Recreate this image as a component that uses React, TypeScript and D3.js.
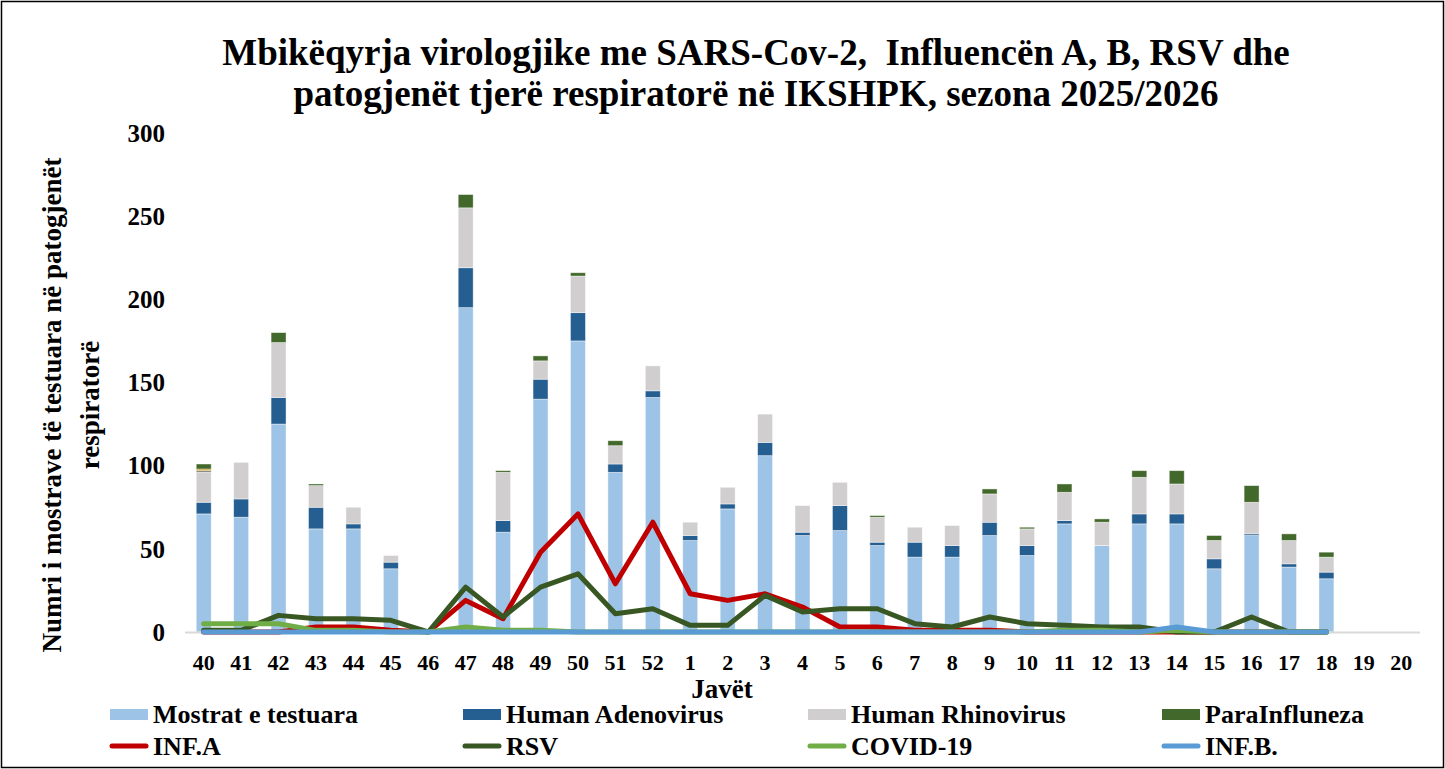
import { useEffect, useRef } from 'react';
import * as d3 from 'd3';

const weeks = ['40', '41', '42', '43', '44', '45', '46', '47', '48', '49', '50', '51', '52',
  '1', '2', '3', '4', '5', '6', '7', '8', '9', '10', '11', '12', '13', '14', '15', '16', '17', '18', '19', '20'];

// stacked bar segments (null = no data)
const mostrat = [71, 69, 125, 62, 62, 38, 0, 195, 60, 140, 175, 96, 141, 55, 74, 106, 58, 61, 52, 45, 45, 58, 46, 65, 52, 65, 65, 38, 58, 39, 32, null, null];
const adenovirus = [7, 11, 16, 13, 3, 4, 0, 24, 7, 12, 17, 5, 4, 3, 3, 8, 2, 15, 2, 9, 7, 8, 6, 2, 0, 6, 6, 6, 1, 2, 4, null, null];
const rhinovirus = [18, 22, 33, 13, 10, 4, 0, 36, 29, 11, 22, 11, 15, 8, 10, 17, 16, 14, 15, 9, 12, 17, 10, 17, 14, 22, 18, 11, 19, 14, 9, null, null];
const metapneumo = [1, 0, 0, 0, 0, 0, 0, 0, 0, 0, 0, 0, 0, 0, 0, 0, 0, 0, 0, 0, 0, 0, 0, 0, 0, 0, 0, 0, 0, 0, 0, null, null];
const bocavirus = [1, 0, 0, 0, 0, 0, 0, 0, 0, 0, 0, 0, 0, 0, 0, 0, 0, 0, 0, 0, 0, 0, 0, 0, 0, 0, 0, 0, 0, 0, 0, null, null];
const parainfluenza = [3, 0, 6, 1, 0, 0, 0, 8, 1, 3, 2, 3, 0, 0, 0, 0, 0, 0, 1, 0, 0, 3, 1, 5, 2, 4, 8, 3, 10, 4, 3, null, null];

// lines
const infA = [0, 0, 0, 3, 3, 1, 0, 19, 8, 48, 71, 29, 66, 23, 19, 23, 15, 3, 3, 1, 1, 1, 0, 0, 0, 0, 0, 0, 0, 0, 0, null, null];
const rsv = [1, 1, 10, 8, 8, 7, 0, 27, 9, 27, 35, 11, 14, 4, 4, 22, 12, 14, 14, 5, 3, 9, 5, 4, 3, 3, 0, 0, 9, 0, 0, null, null];
const covid = [5, 5, 5, 1, 1, 0, 0, 3, 1, 1, 0, 0, 0, 0, 0, 0, 0, 0, 0, 0, 0, 0, 0, 1, 1, 0, 1, 0, 0, 0, 0, null, null];
const infB = [0, 0, 0, 0, 0, 0, 0, 0, 0, 0, 0, 0, 0, 0, 0, 0, 0, 0, 0, 0, 0, 0, 0, 0, 0, 0, 3, 0, 0, 0, 0, null, null];

const yTicks = [0, 50, 100, 150, 200, 250, 300];

const barSeries = [
  { key: 'mostrat', label: 'Mostrat e testuara', values: mostrat, color: '#9dc3e6' },
  { key: 'adeno', label: 'Human Adenovirus', values: adenovirus, color: '#255e91' },
  { key: 'rhino', label: 'Human Rhinovirus', values: rhinovirus, color: '#d0cece' },
  { key: 'meta', label: '', values: metapneumo, color: '#7f7f7f' },
  { key: 'boca', label: '', values: bocavirus, color: '#bf9000' },
  { key: 'para', label: 'ParaInfluneza', values: parainfluenza, color: '#43682b' },
];

const lineSeries = [
  { key: 'infA', label: 'INF.A', values: infA, color: '#c00000' },
  { key: 'rsv', label: 'RSV', values: rsv, color: '#385723' },
  { key: 'covid', label: 'COVID-19', values: covid, color: '#70ad47' },
  { key: 'infB', label: 'INF.B.', values: infB, color: '#5b9bd5' },
];

const W = 1445;
const H = 769;
const FONT = '"Liberation Serif", "Times New Roman", serif';

export default function App() {
  const svgRef = useRef<SVGSVGElement>(null);

  useEffect(() => {
    if (!svgRef.current) return;
    const svg = d3.select(svgRef.current);
    svg.selectAll('*').remove();

    svg.append('rect').attr('width', W).attr('height', H).attr('fill', '#fff');
    svg.append('rect')
      .attr('x', 1.5).attr('y', 1.5)
      .attr('width', W - 3).attr('height', H - 3)
      .attr('fill', 'none').attr('stroke', '#000').attr('stroke-width', 1.5);

    const x = d3.scaleBand<string>()
      .domain(weeks)
      .range([185, 1420])
      .paddingInner(0.6)
      .paddingOuter(0.3);
    const y = d3.scaleLinear().domain([0, 300]).range([632, 133]);

    // title
    const title = svg.append('text')
      .attr('text-anchor', 'middle')
      .attr('font-family', FONT)
      .attr('font-weight', 'bold')
      .attr('font-size', 37)
      .attr('fill', '#000');
    title.append('tspan').attr('x', 756).attr('y', 65)
      .attr('xml:space', 'preserve')
      .style('white-space', 'pre')
      .text('Mbikëqyrja virologjike me SARS-Cov-2,  Influencën A, B, RSV dhe');
    title.append('tspan').attr('x', 756).attr('y', 106)
      .text('patogjenët tjerë respiratorë në IKSHPK, sezona 2025/2026');

    // y tick labels
    svg.append('g').selectAll('text')
      .data(yTicks)
      .enter()
      .append('text')
      .attr('x', 165)
      .attr('y', d => y(d))
      .attr('dy', '0.35em')
      .attr('text-anchor', 'end')
      .attr('font-family', FONT)
      .attr('font-weight', 'bold')
      .attr('font-size', 25)
      .text(d => d);

    // y axis title
    const yTitle = svg.append('text')
      .attr('transform', 'translate(0,405) rotate(-90)')
      .attr('text-anchor', 'middle')
      .attr('font-family', FONT)
      .attr('font-weight', 'bold')
      .attr('font-size', 27);
    yTitle.append('tspan').attr('x', 0).attr('y', 61).text('Numri i mostrave të testuara në patogjenët');
    yTitle.append('tspan').attr('x', 0).attr('y', 99).text('respiratorë');

    // stacked bars
    const stackData = weeks.map((w, i) => {
      const row: Record<string, any> = { week: w };
      barSeries.forEach(s => { row[s.key] = s.values[i] ?? 0; });
      return row;
    });
    const stacked = d3.stack<Record<string, any>>().keys(barSeries.map(s => s.key))(stackData);

    svg.append('g')
      .selectAll('g')
      .data(stacked)
      .enter()
      .append('g')
      .attr('fill', (_, i) => barSeries[i].color)
      .selectAll('rect')
      .data(d => d.filter(p => p[1] - p[0] > 0))
      .enter()
      .append('rect')
      .attr('x', d => x(d.data.week)!)
      .attr('width', x.bandwidth())
      .attr('y', d => y(d[1]))
      .attr('height', d => y(d[0]) - y(d[1]))
      .attr('stroke', 'rgba(255,255,255,0.55)')
      .attr('stroke-width', 0.8);

    // x axis line
    svg.append('line')
      .attr('x1', 185).attr('x2', 1420)
      .attr('y1', 632.5).attr('y2', 632.5)
      .attr('stroke', '#d9d9d9').attr('stroke-width', 2);

    // lines
    const line = d3.line<number | null>()
      .defined(d => d !== null)
      .x((_, i) => x(weeks[i])! + x.bandwidth() / 2)
      .y(d => y(d as number));

    lineSeries.forEach(s => {
      svg.append('path')
        .datum(s.values)
        .attr('d', line)
        .attr('fill', 'none')
        .attr('stroke', s.color)
        .attr('stroke-width', 5)
        .attr('stroke-linejoin', 'round')
        .attr('stroke-linecap', 'round');
    });

    // x tick labels
    svg.append('g').selectAll('text')
      .data(weeks)
      .enter()
      .append('text')
      .attr('x', d => x(d)! + x.bandwidth() / 2)
      .attr('y', 670)
      .attr('text-anchor', 'middle')
      .attr('font-family', FONT)
      .attr('font-weight', 'bold')
      .attr('font-size', 22)
      .text(d => d);

    svg.append('text')
      .attr('x', 722).attr('y', 698)
      .attr('text-anchor', 'middle')
      .attr('font-family', FONT)
      .attr('font-weight', 'bold')
      .attr('font-size', 27)
      .text('Javët');

    // legend
    const legendCols = [110, 463, 808, 1162];
    const barLegend = barSeries.filter(s => s.label);
    const lg = svg.append('g')
      .attr('font-family', FONT)
      .attr('font-weight', 'bold')
      .attr('font-size', 26);

    barLegend.forEach((s, i) => {
      lg.append('rect')
        .attr('x', legendCols[i]).attr('y', 709)
        .attr('width', 38).attr('height', 11)
        .attr('fill', s.color);
      lg.append('text')
        .attr('x', legendCols[i] + 43).attr('y', 723)
        .text(s.label);
    });
    lineSeries.forEach((s, i) => {
      lg.append('line')
        .attr('x1', legendCols[i] + 2).attr('x2', legendCols[i] + 36)
        .attr('y1', 746).attr('y2', 746)
        .attr('stroke', s.color)
        .attr('stroke-width', 5)
        .attr('stroke-linecap', 'round');
      lg.append('text')
        .attr('x', legendCols[i] + 43).attr('y', 755)
        .text(s.label);
    });
  }, []);

  return (
    <svg
      ref={svgRef}
      width={W}
      height={H}
      style={{ position: 'fixed', left: 0, top: 0, display: 'block' }}
    />
  );
}
